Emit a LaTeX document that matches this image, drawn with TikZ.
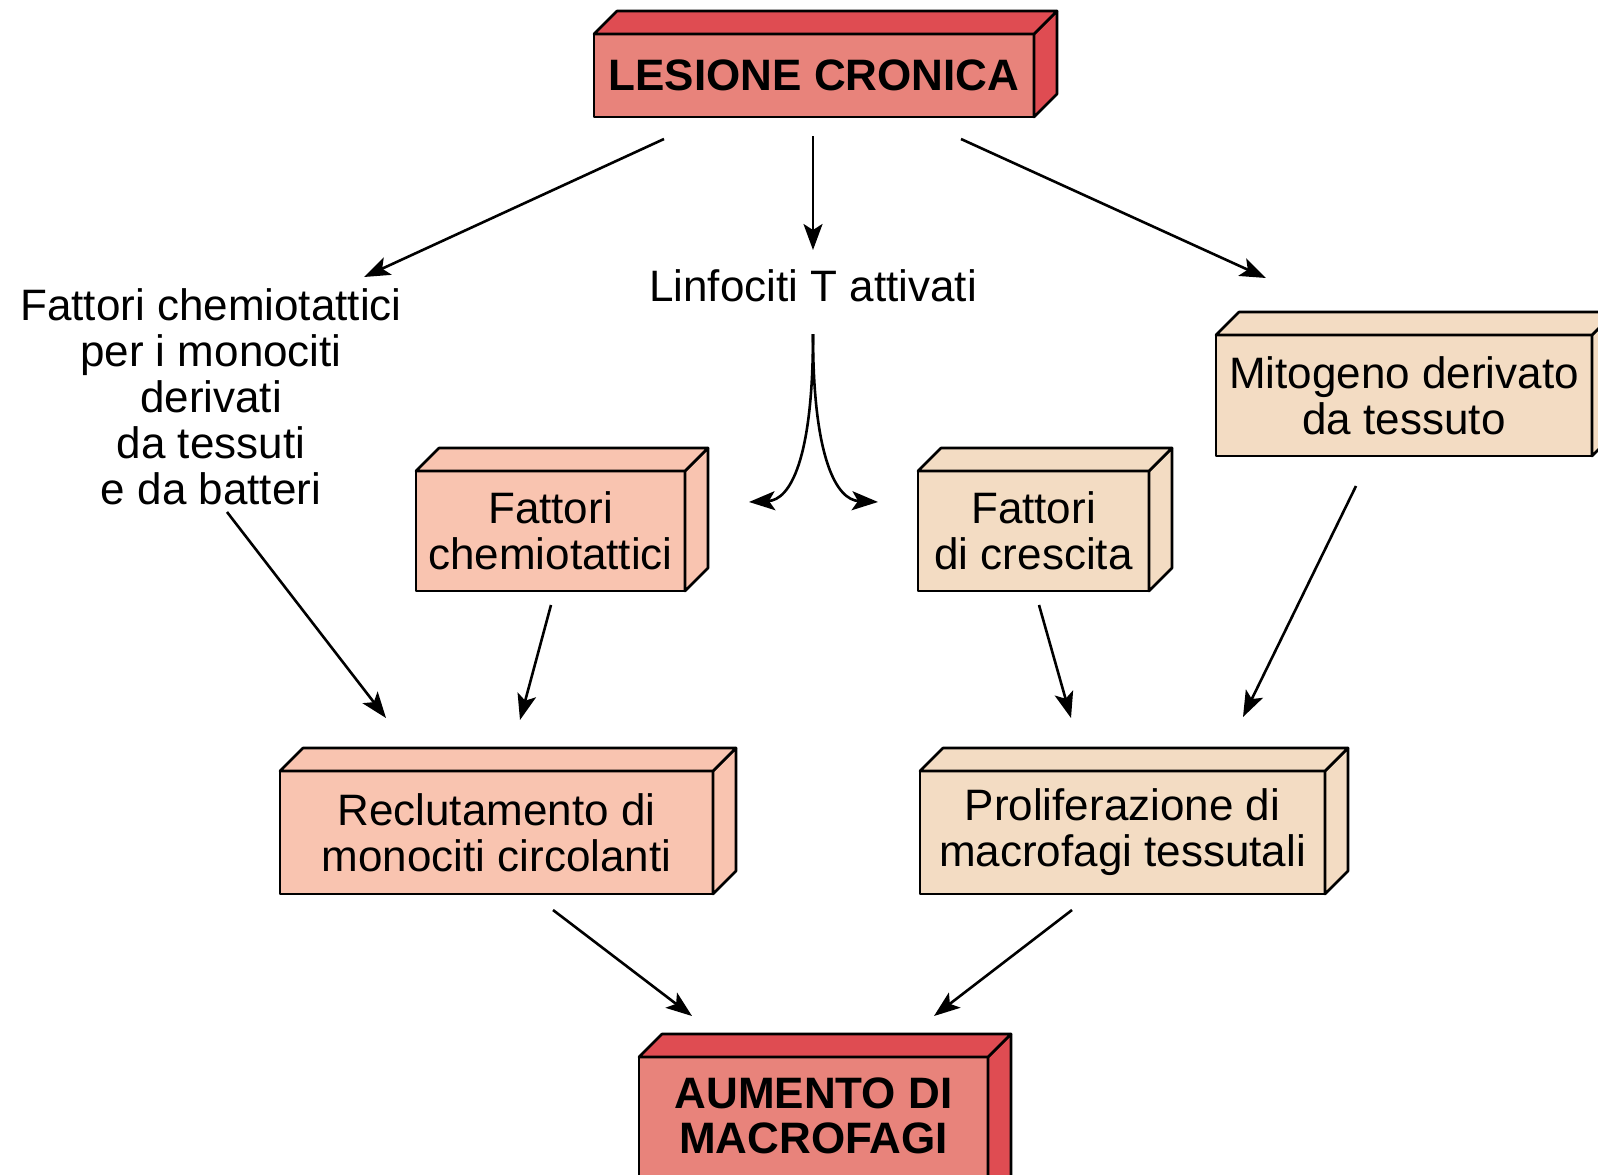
\documentclass[tikz,border=0pt]{standalone}
\usepackage{fontspec}
\setmainfont{Liberation Sans}
\usetikzlibrary{arrows.meta,calc}
\definecolor{redF}{HTML}{E8837B}
\definecolor{redD}{HTML}{DF4C52}
\definecolor{pinkF}{HTML}{F9C4B0}
\definecolor{beigeF}{HTML}{F3DCC3}
\newcommand\cubefaces[2]{%
  \filldraw[fill=#2, draw=black, line width=2.6pt, line join=round]
    (#1.north east) -- ++(23,-23) -- ([shift={(23,-23)}]#1.south east) -- (#1.south east) -- cycle;
  \filldraw[fill=#2, draw=black, line width=2.6pt, line join=round]
    (#1.north west) -- ++(23,-23) -- ([shift={(23,-23)}]#1.north east) -- (#1.north east) -- cycle;
}
\begin{document}
\begin{tikzpicture}[x=1pt, y=-1pt,
  txt/.style={font=\fontsize{44}{46}\selectfont, align=center, inner sep=0pt},
  btxt/.style={font=\fontsize{44}{45}\selectfont\bfseries, align=center, inner sep=0pt},
  cube/.style={draw=black, line width=2.6pt, inner sep=0pt, outer sep=0pt, align=center, line join=round},
  arr/.style={-{Stealth[length=26pt,width=19pt,inset=6pt]}, line width=2.6pt}]
\useasboundingbox (0,0) rectangle (1598,1175);
\fill[white] (0,0) rectangle (1598,1175);

% boxes
\node[cube, fill=redF, minimum width=440, minimum height=83, btxt] (lesione) at (814,75.5) {LESIONE CRONICA};
\cubefaces{lesione}{redD}

\node[cube, fill=pinkF, minimum width=269, minimum height=120, txt] (fchem) at (550.5,531) {Fattori\\chemiotattici};
\cubefaces{fchem}{pinkF}

\node[cube, fill=beigeF, minimum width=231, minimum height=120, txt] (fcre) at (1033.5,531) {Fattori\\di crescita};
\cubefaces{fcre}{beigeF}

\node[cube, fill=beigeF, minimum width=376, minimum height=121, txt] (mito) at (1404,395.5) {Mitogeno derivato\\da tessuto};
\cubefaces{mito}{beigeF}

\node[cube, fill=pinkF, minimum width=433, minimum height=123, txt] (recl) at (496.5,832.5) {Reclutamento di\\monociti circolanti};
\cubefaces{recl}{pinkF}

\node[cube, fill=beigeF, minimum width=405, minimum height=123, txt] (prol) at (1122.5,832.5) {Proliferazione di\\macrofagi tessutali};
\cubefaces{prol}{beigeF}

\node[cube, fill=redF, minimum width=349, minimum height=143] (aum) at (813.5,1128.5) {};
\cubefaces{aum}{redD}
\node[btxt] (aumtxt) at (813.5,1115.5) {AUMENTO DI\\MACROFAGI};

% free texts
\node[txt] (ltext) at (211,396.5) {Fattori chemiotattici\\per i monociti\\derivati\\da tessuti\\e da batteri};
\node[txt] (linf) at (813,286) {Linfociti T attivati};

% arrows
\draw[arr] ($(lesione.south west)+(70,22)$) -- ($(ltext.center)+(153,-119.5)$);
\draw[arr] ($(lesione.south)+(-1,19)$) -- ($(linf.center)+(0,-36)$);
\draw[arr] ($(lesione.south east)+(-73,22)$) -- ($(mito.north)+(-138,-57)$);
\draw[arr] ($(ltext.center)+(16,115.5)$) -- ($(recl.north west)+(106,-53)$);
\draw[arr] ($(fchem.south)+(0.5,14)$) -- ($(recl.north)+(23.5,-51)$);
\draw[arr] ($(fcre.south)+(5.5,14)$) -- ($(prol.north)+(-51.5,-53)$);
\draw[arr] ($(mito.south)+(-48,30)$) -- ($(prol.north)+(120.5,-54)$);
\draw[arr] ($(recl.south)+(56.5,16)$) -- ($(aum.north)+(-121.5,-41)$);
\draw[arr] ($(prol.south)+(-50.5,16)$) -- ($(aum.north)+(120.5,-41)$);

% split curve from Linfociti T
\coordinate (split) at ($(linf.center)+(0,48)$);
\draw[arr] (split) .. controls ($(split)+(0,126)$) and ($(fchem.east)+(105,-31)$) .. ($(fchem.east)+(64,-29)$);
\draw[arr] (split) .. controls ($(split)+(0,126)$) and ($(fcre.west)+(-81,-31)$) .. ($(fcre.west)+(-40,-29)$);
\end{tikzpicture}
\end{document}
